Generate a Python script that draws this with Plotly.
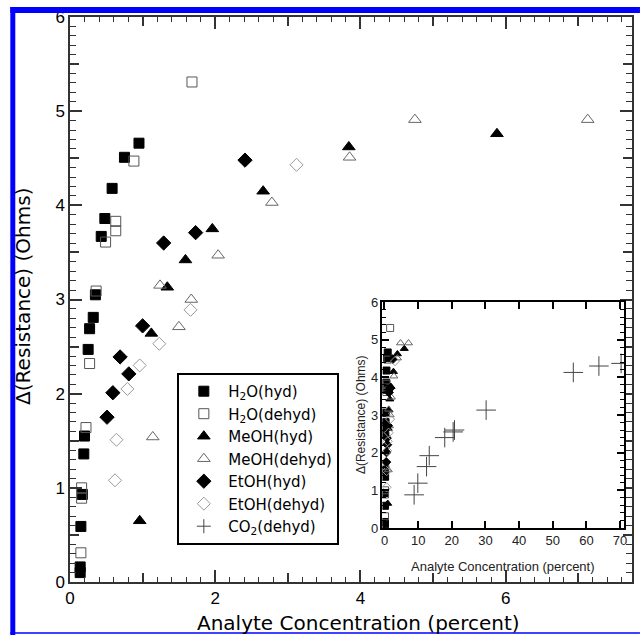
import plotly.graph_objects as go

# ---- data ----
h2o_hyd_x = [0.95, 0.75, 0.58, 0.48, 0.43, 0.35, 0.32, 0.27, 0.25, 0.20, 0.19, 0.17, 0.15, 0.14, 0.14]
h2o_hyd_y = [4.66, 4.51, 4.18, 3.86, 3.67, 3.05, 2.81, 2.69, 2.47, 1.55, 1.36, 0.93, 0.59, 0.16, 0.10]

h2o_dehyd_x = [1.68, 0.88, 0.63, 0.63, 0.49, 0.36, 0.27, 0.22, 0.16, 0.16, 0.15]
h2o_dehyd_y = [5.31, 4.47, 3.83, 3.73, 3.61, 3.09, 2.32, 1.64, 1.00, 0.89, 0.31]

meoh_hyd_x = [0.96, 1.12, 1.34, 1.59, 1.96, 2.66, 3.84, 5.88]
meoh_hyd_y = [0.65, 2.64, 3.13, 3.42, 3.75, 4.15, 4.62, 4.76]

meoh_dehyd_x = [1.14, 1.24, 1.50, 1.67, 2.04, 2.78, 3.85, 4.75, 7.13]
meoh_dehyd_y = [1.54, 3.15, 2.71, 3.00, 3.47, 4.03, 4.51, 4.91, 4.91]

etoh_hyd_x = [0.51, 0.59, 0.69, 0.81, 1.00, 1.29, 1.73, 2.41]
etoh_hyd_y = [1.75, 2.01, 2.39, 2.21, 2.72, 3.60, 3.71, 4.48]

etoh_dehyd_x = [0.62, 0.64, 0.79, 0.96, 1.23, 1.66, 3.12]
etoh_dehyd_y = [1.08, 1.51, 2.05, 2.30, 2.53, 2.89, 4.43]

co2_dehyd_x = [8.8, 9.9, 12.5, 13.3, 17.9, 20.4, 20.8, 30.2, 56.1, 63.7, 70.3]
co2_dehyd_y = [0.88, 1.19, 1.63, 1.92, 2.40, 2.55, 2.60, 3.13, 4.13, 4.30, 4.37]

series_names = ["H<sub>2</sub>O(hyd)", "H<sub>2</sub>O(dehyd)", "MeOH(hyd)", "MeOH(dehyd)",
                "EtOH(hyd)", "EtOH(dehyd)", "CO<sub>2</sub>(dehyd)"]

main_x_mid_ticks = [1, 3, 5, 7]
main_y_mid_ticks = [0.5, 1.5, 2.5, 3.5, 4.5, 5.5]

FONT = "Liberation Sans, Arial, sans-serif"
WFONT = "DejaVu Sans, Verdana, sans-serif"

series = [
    (h2o_hyd_x, h2o_hyd_y, "square", "black", 10, 7),
    (h2o_dehyd_x, h2o_dehyd_y, "square-open", "#555555", 10, 7),
    (meoh_hyd_x, meoh_hyd_y, "triangle-up", "black", 11, 7),
    (meoh_dehyd_x, meoh_dehyd_y, "triangle-up-open", "#666666", 11, 7),
    (etoh_hyd_x, etoh_hyd_y, "diamond", "black", 11, 7),
    (etoh_dehyd_x, etoh_dehyd_y, "diamond-open", "#9a9a9a", 10, 7),
    (co2_dehyd_x, co2_dehyd_y, "cross-thin-open", "#444444", 10, 14),
]

fig = go.Figure()
for (xs, ys, sym, col, size, _), name in zip(series, series_names):
    fig.add_trace(go.Scatter(
        x=xs, y=ys, mode="markers", name=name, xaxis="x", yaxis="y",
        marker=dict(symbol=sym, color=col, size=size, line=dict(color=col, width=1)),
    ))
for (xs, ys, sym, col, _, isize), name in zip(series, series_names):
    fig.add_trace(go.Scatter(
        x=xs, y=ys, mode="markers", name=name, xaxis="x2", yaxis="y2", showlegend=False,
        marker=dict(symbol=sym, color=col, size=isize, line=dict(color=col, width=1)),
    ))

axcol = "#333333"
fig.update_layout(
    width=643, height=635,
    margin=dict(l=70, r=8, t=17, b=53),
    paper_bgcolor="white", plot_bgcolor="white",
    font=dict(family=FONT, color="black"),
    xaxis=dict(
        range=[0, 7.74], domain=[0, 1], anchor="y",
        dtick=2, tick0=0,
        ticks="inside", ticklen=12, tickwidth=1.5, tickcolor=axcol,
        minor=dict(dtick=0.2, tick0=0, ticks="inside", ticklen=5, tickwidth=1, tickcolor=axcol),
        showline=True, linecolor=axcol, linewidth=1.5, mirror="allticks",
        showgrid=False, zeroline=False, tickfont=dict(size=17),
    ),
    yaxis=dict(
        range=[0, 6], domain=[0, 1], anchor="x",
        dtick=1, tick0=0,
        ticks="inside", ticklen=12, tickwidth=1.5, tickcolor=axcol,
        minor=dict(dtick=0.1, tick0=0, ticks="inside", ticklen=6, tickwidth=1, tickcolor=axcol),
        showline=True, linecolor=axcol, linewidth=1.5, mirror="allticks",
        showgrid=False, zeroline=False, tickfont=dict(size=17),
    ),
    xaxis3=dict(
        range=[0, 7.74], overlaying="x", anchor="y", side="bottom",
        tickmode="array", tickvals=main_x_mid_ticks, showticklabels=False,
        ticks="inside", ticklen=9, tickwidth=1.5, tickcolor=axcol,
        showline=False, mirror="ticks", showgrid=False, zeroline=False,
    ),
    yaxis3=dict(
        range=[0, 6], overlaying="y", anchor="x", side="left",
        tickmode="array", tickvals=main_y_mid_ticks, showticklabels=False,
        ticks="inside", ticklen=9, tickwidth=1.5, tickcolor=axcol,
        showline=False, mirror="ticks", showgrid=False, zeroline=False,
    ),
    xaxis2=dict(
        range=[-0.6, 71.2], domain=[0.556, 0.986], anchor="y2",
        dtick=10, tick0=0, ticks="inside", ticklen=7, tickwidth=1.5, tickcolor="black",
        showline=True, linecolor="black", linewidth=1.5, mirror="ticks",
        showgrid=False, zeroline=False, tickfont=dict(size=13, color="#222222"),
    ),
    yaxis2=dict(
        range=[0, 6], domain=[0.0956, 0.4956], anchor="x2",
        dtick=1, tick0=0, ticks="inside", ticklen=7, tickwidth=1.5, tickcolor="black",
        minor=dict(dtick=0.2, ticks="inside", ticklen=4, tickwidth=1, tickcolor="black"),
        showline=True, linecolor="black", linewidth=1.5, mirror="ticks",
        showgrid=False, zeroline=False, tickfont=dict(size=13, color="#222222"),
    ),
    legend=dict(
        x=0.191, y=0.37, xanchor="left", yanchor="top",
        bordercolor="black", borderwidth=2, bgcolor="white",
        font=dict(size=15, family=WFONT), tracegroupgap=0, itemwidth=39,
    ),
    showlegend=True,
)

# dummy empty trace so the mid-tick overlay axes are drawn
fig.add_trace(go.Scatter(x=[None], y=[None], xaxis="x3", yaxis="y3", mode="markers",
                         showlegend=False, hoverinfo="skip"))

# axis titles
fig.add_annotation(text="Analyte Concentration (percent)", xref="paper", yref="paper",
                   x=0.513, y=-0.072, xanchor="center", yanchor="middle", showarrow=False,
                   font=dict(size=20, family=WFONT))
fig.add_annotation(text="Δ(Resistance) (Ohms)", xref="paper", yref="paper",
                   x=-0.085, y=0.505, xanchor="center", yanchor="middle", showarrow=False,
                   textangle=-90, font=dict(size=20, family=WFONT))
fig.add_annotation(text="Analyte Concentration (percent)", xref="paper", yref="paper",
                   x=0.771, y=0.027, xanchor="center", yanchor="middle", showarrow=False,
                   font=dict(size=13, family=FONT, color="#222222"))
fig.add_annotation(text="Δ(Resistance) (Ohms)", xref="paper", yref="paper",
                   x=0.518, y=0.2956, xanchor="center", yanchor="middle", showarrow=False,
                   textangle=-90, font=dict(size=12, family=FONT, color="#222222"))

# blue frame
def px_x(p):
    return (p - 70) / 565.0

def px_y(p):
    return (582 - p) / 565.0

blue = "#0000ff"
fig.add_shape(type="rect", xref="paper", yref="paper", x0=px_x(10), x1=px_x(15),
              y0=px_y(636), y1=px_y(7), fillcolor=blue, line=dict(width=0), layer="above")
fig.add_shape(type="rect", xref="paper", yref="paper", x0=px_x(10), x1=px_x(643),
              y0=px_y(13), y1=px_y(7), fillcolor=blue, line=dict(width=0), layer="above")
fig.add_shape(type="line", xref="paper", yref="paper", x0=px_x(10), x1=px_x(643),
              y0=px_y(633), y1=px_y(633), line=dict(color=blue, width=1.5), layer="above")

fig.write_html("out.html")
